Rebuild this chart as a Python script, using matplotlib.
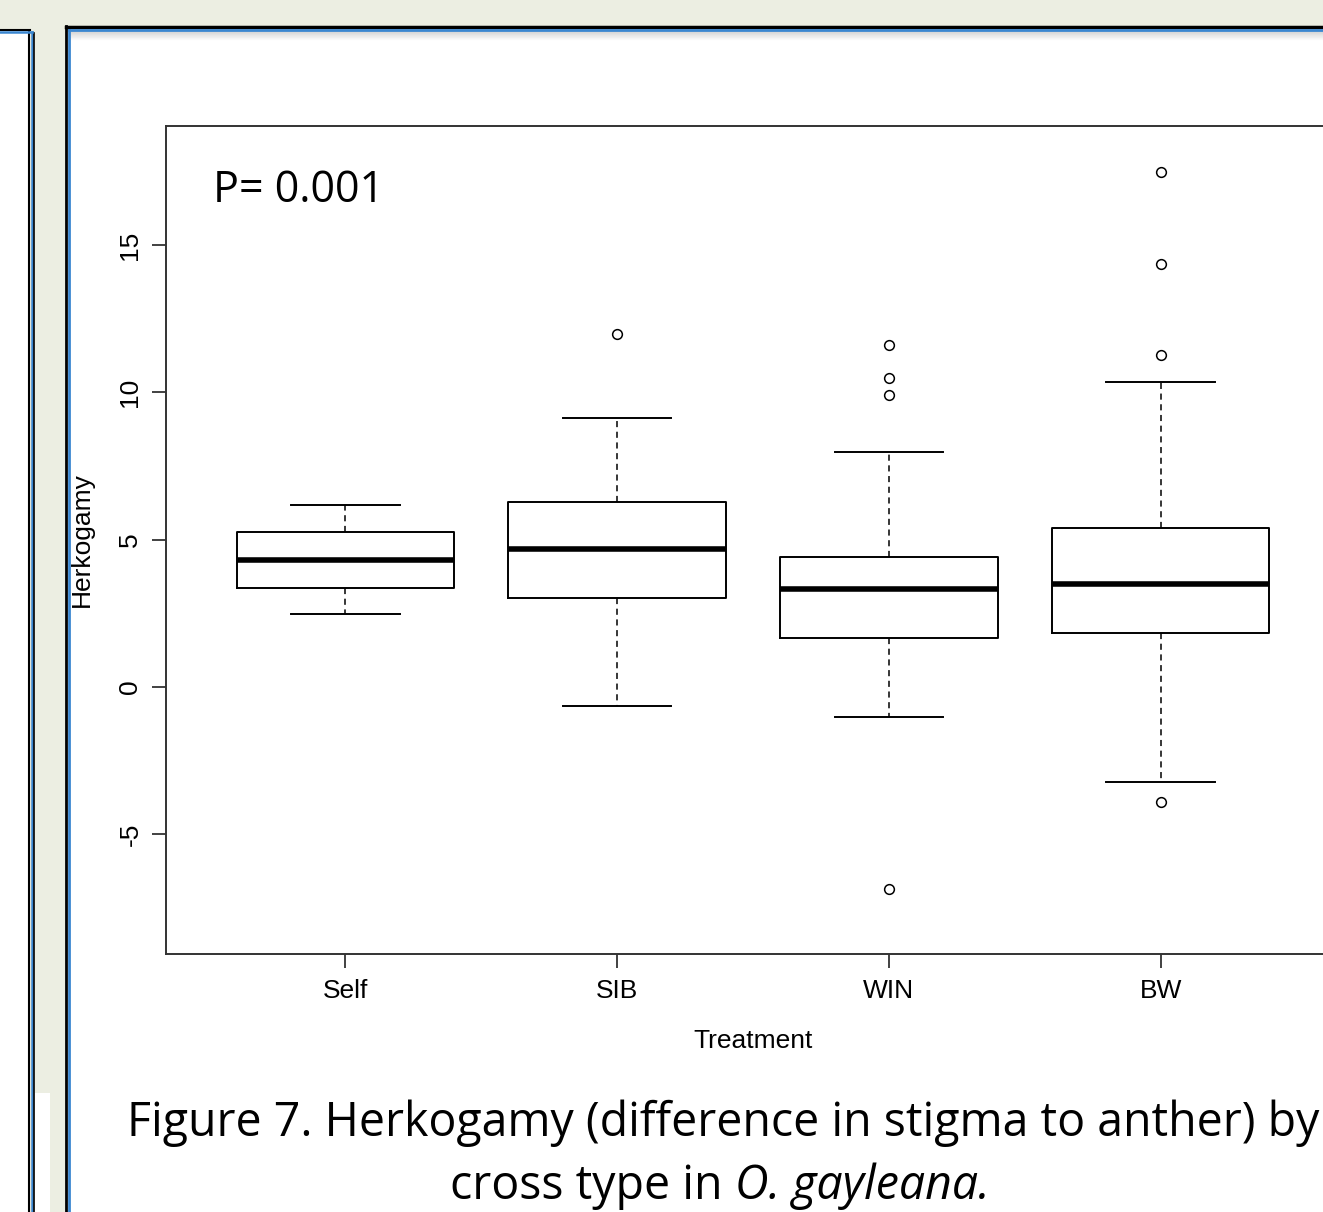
import numpy as np
import matplotlib.pyplot as plt
from matplotlib.patches import Rectangle
from matplotlib.lines import Line2D

# box statistics
treatments = ['Self', 'SIB', 'WIN', 'BW']
whisker_low = [2.48, -0.65, -1.02, -3.23]
q1 = [3.36, 3.02, 1.66, 1.83]
medians = [4.31, 4.69, 3.33, 3.50]
q3 = [5.26, 6.28, 4.41, 5.40]
whisker_high = [6.18, 9.13, 7.98, 10.36]
outliers = [[], [11.99], [11.61, 10.49, 9.92, -6.86], [17.49, 14.36, 11.27, -3.90]]

W, H = 1323, 1212
fig = plt.figure(figsize=(W / 100, H / 100), dpi=100)
fig.patch.set_facecolor('#ECEEE2')


def px_rect(x0, y0, x1, y1, color):
    fig.add_artist(Rectangle((x0 / W, 1 - y1 / H), (x1 - x0) / W, (y1 - y0) / H,
                             transform=fig.transFigure, facecolor=color,
                             edgecolor='none', zorder=0))


def px_line(x0, y0, x1, y1, color, lw):
    fig.add_artist(Line2D([x0 / W, x1 / W], [1 - y0 / H, 1 - y1 / H],
                          transform=fig.transFigure, color=color, lw=lw, zorder=1))


# slide panels
px_rect(0, 30, 28, H, 'white')
px_rect(35, 1093, 50, H, 'white')
px_rect(67, 27, W, H, 'white')
for i, a in enumerate(np.linspace(0.25, 0.0, 10)):
    px_line(70, 31 + i, W, 31 + i, (0.5, 0.5, 0.5, a), 1)
# left panel frame
px_line(29, 31, 29, H, 'black', 1.5)
px_line(31.5, 32, 31.5, H, '#3A86D0', 1.8)
px_line(33.5, 33, 33.5, H, 'black', 1.2)
px_line(0, 30, 30, 30, 'black', 1.5)
px_line(0, 32, 32, 32, '#3A86D0', 1.8)
# right panel frame
px_line(66, 26, 66, H, 'black', 2)
px_line(69, 29, 69, H, '#3A86D0', 2)
px_line(66, 26.5, W, 26.5, 'black', 2.5)
px_line(69, 29.5, W, 29.5, '#3A86D0', 2)

ax_l, ax_r, ax_t, ax_b = 166, 1340, 126, 954
ax = fig.add_axes([ax_l / W, 1 - ax_b / H, (ax_r - ax_l) / W, (ax_b - ax_t) / H])
ax.set_facecolor('white')

stats = []
for i, name in enumerate(treatments):
    stats.append(dict(label=name, med=medians[i], q1=q1[i], q3=q3[i],
                      whislo=whisker_low[i], whishi=whisker_high[i],
                      fliers=outliers[i]))

ax.bxp(stats, positions=[1, 2, 3, 4], widths=0.8, capwidths=0.4,
       boxprops=dict(color='black', lw=1.4),
       medianprops=dict(color='black', lw=4),
       whiskerprops=dict(color='black', lw=1.1, ls=(0, (4, 3))),
       capprops=dict(color='black', lw=1.4),
       flierprops=dict(marker='o', markersize=7, markerfacecolor='none',
                       markeredgecolor='black', markeredgewidth=1.1))

ax.set_xlim(0.34, 4.66)
ax.set_ylim(-9.07, 19.05)
ax.set_yticks([-5, 0, 5, 10, 15])
ax.set_yticklabels(['-5', '0', '5', '10', '15'])

tick_font = dict(family=['Liberation Sans Narrow', 'Liberation Sans'], size=19)
for lab in ax.get_xticklabels():
    lab.set(**tick_font)
for lab in ax.get_yticklabels():
    lab.set(**tick_font, rotation=90, va='center')
ax.tick_params(axis='both', direction='out', length=10, width=1.3, color='#333333')
ax.tick_params(axis='x', pad=8)
ax.tick_params(axis='y', pad=7)
for s in ax.spines.values():
    s.set_color('#333333')
    s.set_linewidth(1.4)

fig.text(753 / W, 1 - 1041 / H, 'Treatment', ha='center', va='center', **tick_font)
fig.text(82 / W, 1 - 540 / H, 'Herkogamy', ha='center', va='center', rotation=90,
         **tick_font)

ax.text(213 / W, 1 - 191 / H, 'P= 0.001', transform=fig.transFigure,
        ha='left', va='center', fontsize=31, family=['Open Sans', 'DejaVu Sans'])

cap_font = ['Open Sans', 'DejaVu Sans']
cap_size = 33.5
fig.text(127 / W, 1 - 1123 / H, 'Figure 7. Herkogamy (difference in stigma to anther) by',
         ha='left', va='center', fontsize=cap_size, family=cap_font)

# second caption line: plain part then italic species name, centred as a whole
renderer = fig.canvas.get_renderer()
part1 = fig.text(0, 1 - 1186 / H, 'cross type in ', ha='left', va='center',
                 fontsize=cap_size, family=cap_font)
part2 = fig.text(0, 1 - 1186 / H, 'O. gayleana.', ha='left', va='center',
                 fontsize=cap_size, family=cap_font, style='italic')
w1 = part1.get_window_extent(renderer).width
w2 = part2.get_window_extent(renderer).width
x_start = 720 - (w1 + w2) / 2
part1.set_x(x_start / W)
part2.set_x((x_start + w1) / W)

fig.savefig('out.png', dpi=100, facecolor=fig.get_facecolor())
